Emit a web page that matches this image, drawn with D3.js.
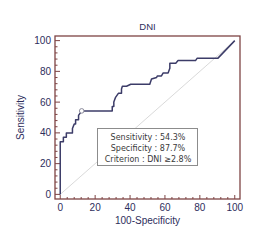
<!DOCTYPE html>
<html>
<head>
<meta charset="utf-8">
<script src="https://cdn.jsdelivr.net/npm/d3@7"></script>
<style>
  body { margin: 0; background: #fff; }
  svg { display: block; }
</style>
</head>
<body>
<div id="chart"></div>
<script>
const title = "DNI";
const xLabel = "100-Specificity";
const yLabel = "Sensitivity";
const majorTicks = [0, 20, 40, 60, 80, 100];
const minorTicks = d3.range(0, 101, 4).filter(t => t % 20 !== 0);

// ROC curve: 100-specificity vs sensitivity
const fpr = [0, 0, 1.8, 1.8, 3.5, 3.5, 7, 7, 8, 8.8, 8.8, 10.5, 10.5, 12.3,
             29.8, 29.8, 30.7, 30.7, 31.6, 33.3, 35.1, 35.1, 35.6, 38, 40.4, 51.3,
             52.3, 55.2, 55.6, 58, 59, 61.8, 62.8, 62.8, 66.2, 67.5, 77.5, 78.5, 90.4, 100];
const tpr = [0, 34.3, 34.3, 37.1, 37.1, 40, 40, 42.9, 45.7, 45.7, 48.6, 48.6, 51.4, 54.3,
             54.3, 57.1, 57.1, 60, 62.9, 65.7, 65.7, 68.6, 70.3, 70.3, 71.6, 71.6,
             75, 76, 77, 77, 79, 79, 82, 85.3, 85.3, 87, 87, 88.6, 88.6, 100];
const criterion = {fpr: 12.3, tpr: 54.3};
const legendLines = ["Sensitivity : 54.3%", "Specificity : 87.7%", "Criterion : DNI \u22652.8%"];

const width = 273, height = 251;
const frame = {left: 55, right: 240, top: 36, bottom: 199};
const frameColor = "#7e4444";
const inkColor = "#2e2e5c";

const svg = d3.select("#chart").append("svg")
              .attr("width", width)
              .attr("height", height);

const x = d3.scaleLinear().domain([-3, 103]).range([frame.left, frame.right]);
const y = d3.scaleLinear().domain([-3, 103]).range([frame.bottom, frame.top]);

// diagonal reference
svg.append("line")
   .attr("x1", x(0)).attr("y1", y(0))
   .attr("x2", x(100)).attr("y2", y(100))
   .attr("stroke", "#cfcfcf")
   .attr("stroke-width", 0.8);

// ticks point inward from the frame
const tickG = svg.append("g").attr("stroke", frameColor).attr("stroke-width", 1);
tickG.selectAll(".xmaj").data(majorTicks).join("line")
     .attr("x1", d => x(d)).attr("x2", d => x(d))
     .attr("y1", frame.bottom).attr("y2", frame.bottom - 4);
tickG.selectAll(".xmin").data(minorTicks).join("line")
     .attr("x1", d => x(d)).attr("x2", d => x(d))
     .attr("y1", frame.bottom).attr("y2", frame.bottom - 2);
tickG.selectAll(".ymaj").data(majorTicks).join("line")
     .attr("y1", d => y(d)).attr("y2", d => y(d))
     .attr("x1", frame.left).attr("x2", frame.left + 5);
tickG.selectAll(".ymin").data(minorTicks).join("line")
     .attr("y1", d => y(d)).attr("y2", d => y(d))
     .attr("x1", frame.left).attr("x2", frame.left + 2.5);

svg.append("rect")
   .attr("x", frame.left).attr("y", frame.top)
   .attr("width", frame.right - frame.left)
   .attr("height", frame.bottom - frame.top)
   .attr("fill", "none")
   .attr("stroke", frameColor)
   .attr("stroke-width", 1.3);

const labelFont = "'Liberation Sans', Arial, sans-serif";

svg.append("g")
   .selectAll("text")
   .data(majorTicks)
   .join("text")
   .attr("x", d => x(d))
   .attr("y", 210.5)
   .attr("text-anchor", "middle")
   .attr("font-family", labelFont)
   .attr("font-size", 10)
   .attr("fill", inkColor)
   .text(d => d);

svg.append("g")
   .selectAll("text")
   .data(majorTicks)
   .join("text")
   .attr("x", 51)
   .attr("y", d => y(d) + 3.5)
   .attr("text-anchor", "end")
   .attr("font-family", labelFont)
   .attr("font-size", 10)
   .attr("fill", inkColor)
   .text(d => d);

svg.append("text")
   .attr("x", (frame.left + frame.right) / 2)
   .attr("y", 30)
   .attr("text-anchor", "middle")
   .attr("font-family", labelFont)
   .attr("font-size", 9.5)
   .attr("fill", inkColor)
   .text(title);

svg.append("text")
   .attr("x", (frame.left + frame.right) / 2)
   .attr("y", 223.5)
   .attr("text-anchor", "middle")
   .attr("font-family", labelFont)
   .attr("font-size", 10)
   .attr("fill", inkColor)
   .text(xLabel);

svg.append("text")
   .attr("transform", `translate(24,${(y(0) + y(100)) / 2}) rotate(-90)`)
   .attr("text-anchor", "middle")
   .attr("font-family", labelFont)
   .attr("font-size", 10)
   .attr("fill", inkColor)
   .text(yLabel);

const roc = fpr.map((f, i) => [f, tpr[i]]);
svg.append("path")
   .datum(roc)
   .attr("fill", "none")
   .attr("stroke", "#3c3c68")
   .attr("stroke-width", 1.5)
   .attr("stroke-linejoin", "round")
   .attr("d", d3.line().x(d => x(d[0])).y(d => y(d[1])));

svg.append("circle")
   .attr("cx", x(criterion.fpr))
   .attr("cy", y(criterion.tpr))
   .attr("r", 2.3)
   .attr("fill", "#fff")
   .attr("stroke", "#8a8a9a")
   .attr("stroke-width", 1);

// legend box
const legend = svg.append("g");
legend.append("rect")
      .attr("x", 97.5).attr("y", 128.5)
      .attr("width", 100).attr("height", 37)
      .attr("fill", "#fff")
      .attr("stroke", "#8c8c8c")
      .attr("stroke-width", 1);
legend.selectAll("text")
      .data(legendLines)
      .join("text")
      .attr("x", 148)
      .attr("y", (d, i) => 139.5 + i * 11)
      .attr("text-anchor", "middle")
      .attr("font-family", "'DejaVu Sans', Verdana, sans-serif")
      .attr("font-size", 8)
      .attr("fill", "#3a3a3a")
      .text(d => d);
</script>
</body>
</html>
